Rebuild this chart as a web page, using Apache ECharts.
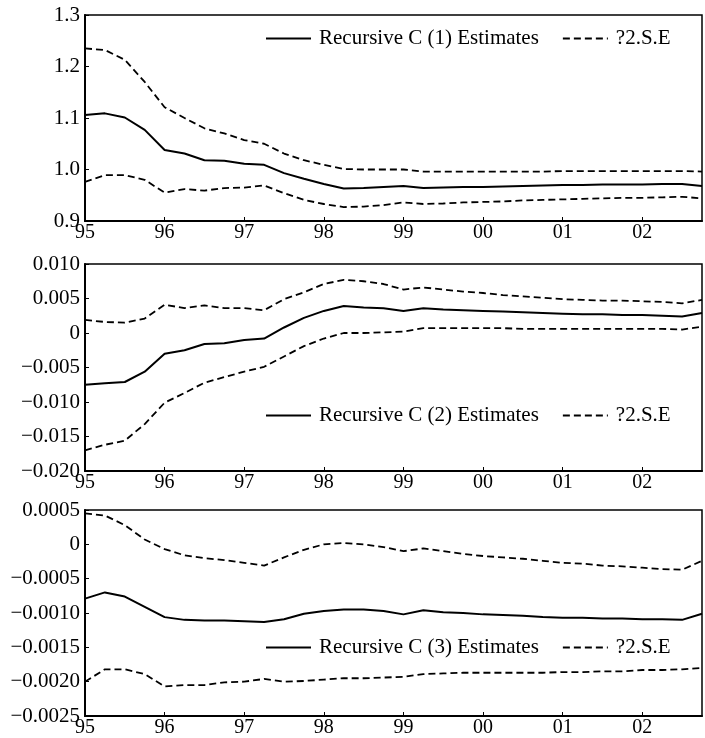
<!DOCTYPE html>
<html style="height: 100%">
<head>
    <meta charset="utf-8">
</head>
<body style="height: 100%; margin: 0; background: #fff">
<div id="container" style="width: 705px; height: 738px"></div>
<script type="text/javascript" src="https://cdn.jsdelivr.net/npm/echarts@6/dist/echarts.min.js"></script>
<script type="text/javascript">
    // quarters 1995Q1 .. 2002Q4
    var quarters = ['95Q1','95Q2','95Q3','95Q4','96Q1','96Q2','96Q3','96Q4',
        '97Q1','97Q2','97Q3','97Q4','98Q1','98Q2','98Q3','98Q4',
        '99Q1','99Q2','99Q3','99Q4','00Q1','00Q2','00Q3','00Q4',
        '01Q1','01Q2','01Q3','01Q4','02Q1','02Q2','02Q3','02Q4'];
    var yearLabels = ['95', '96', '97', '98', '99', '00', '01', '02'];

    // C(1)
    var c1Est = [1.106, 1.109, 1.101, 1.077, 1.038, 1.031, 1.018, 1.017, 1.011, 1.009, 0.993, 0.982, 0.972, 0.963, 0.964, 0.966,
        0.968, 0.964, 0.965, 0.966, 0.966, 0.967, 0.968, 0.969, 0.970, 0.970, 0.971, 0.971, 0.971, 0.972, 0.972, 0.968];
    var c1Up = [1.235, 1.232, 1.213, 1.170, 1.121, 1.100, 1.080, 1.070, 1.057, 1.050, 1.031, 1.018, 1.009, 1.001, 1.000, 1.000,
        1.000, 0.996, 0.996, 0.996, 0.996, 0.996, 0.996, 0.996, 0.997, 0.997, 0.997, 0.997, 0.997, 0.997, 0.997, 0.996];
    var c1Low = [0.976, 0.989, 0.989, 0.980, 0.955, 0.962, 0.959, 0.964, 0.965, 0.969, 0.954, 0.941, 0.933, 0.927, 0.928, 0.931,
        0.936, 0.933, 0.934, 0.936, 0.937, 0.938, 0.940, 0.941, 0.942, 0.943, 0.944, 0.945, 0.945, 0.946, 0.947, 0.944];
    var c1Ticks = ['0.9', '1.0', '1.1', '1.2', '1.3'];

    // C(2)
    var c2Est = [-0.0075, -0.0073, -0.0071, -0.0056, -0.0030, -0.0025, -0.0016, -0.0015, -0.0010, -0.0008, 0.0008, 0.0022, 0.0032, 0.0039, 0.0037, 0.0036,
        0.0032, 0.0036, 0.0034, 0.0033, 0.0032, 0.0031, 0.0030, 0.0029, 0.0028, 0.0027, 0.0027, 0.0026, 0.0026, 0.0025, 0.0024, 0.0029];
    var c2Up = [0.0019, 0.0016, 0.0015, 0.0021, 0.0041, 0.0036, 0.0040, 0.0036, 0.0036, 0.0033, 0.0049, 0.0059, 0.0071, 0.0077, 0.0075, 0.0071,
        0.0063, 0.0066, 0.0063, 0.0060, 0.0058, 0.0055, 0.0053, 0.0051, 0.0049, 0.0048, 0.0047, 0.0047, 0.0046, 0.0045, 0.0043, 0.0048];
    var c2Low = [-0.0170, -0.0162, -0.0156, -0.0132, -0.0101, -0.0087, -0.0072, -0.0064, -0.0056, -0.0049, -0.0034, -0.0019, -0.0008, 0.0000, 0.0000, 0.0001,
        0.0002, 0.0007, 0.0007, 0.0007, 0.0007, 0.0007, 0.0006, 0.0006, 0.0006, 0.0006, 0.0006, 0.0006, 0.0006, 0.0006, 0.0005, 0.0009];
    var c2Ticks = ['\u22120.020', '\u22120.015', '\u22120.010', '\u22120.005', '0', '0.005', '0.010'];

    // C(3)
    var c3Est = [-0.00079, -0.00070, -0.00076, -0.00091, -0.00106, -0.00110, -0.00111, -0.00111, -0.00112, -0.00113, -0.00109, -0.00101, -0.00097, -0.00095, -0.00095, -0.00097,
        -0.00102, -0.00096, -0.00099, -0.00100, -0.00102, -0.00103, -0.00104, -0.00106, -0.00107, -0.00107, -0.00108, -0.00108, -0.00109, -0.00109, -0.00110, -0.00101];
    var c3Up = [0.00045, 0.00042, 0.00028, 0.00007, -0.00007, -0.00016, -0.00020, -0.00023, -0.00027, -0.00031, -0.00019, -0.00008, 0.00000, 0.00002, 0.00000, -0.00004,
        -0.00010, -0.00006, -0.00010, -0.00014, -0.00017, -0.00019, -0.00021, -0.00024, -0.00027, -0.00028, -0.00031, -0.00032, -0.00034, -0.00036, -0.00037, -0.00024];
    var c3Low = [-0.00200, -0.00182, -0.00182, -0.00189, -0.00207, -0.00205, -0.00205, -0.00201, -0.00200, -0.00196, -0.00200, -0.00199, -0.00197, -0.00195, -0.00195, -0.00194,
        -0.00193, -0.00189, -0.00188, -0.00187, -0.00187, -0.00187, -0.00187, -0.00187, -0.00186, -0.00186, -0.00185, -0.00185, -0.00183, -0.00183, -0.00182, -0.00180];
    var c3Ticks = ['\u22120.0025', '\u22120.0020', '\u22120.0015', '\u22120.0010', '\u22120.0005', '0', '0.0005'];

    var seName = '?2.S.E';
    var font = 'Liberation Serif';

    var dom = document.getElementById('container');
    var myChart = echarts.init(dom);

    var grids = [
        {left: 85, right: 3, top: 15, height: 206},
        {left: 85, right: 3, top: 264, height: 207},
        {left: 85, right: 3, top: 510, height: 206}
    ];
    grids.forEach(function (g) {
        g.show = true;
        g.borderColor = '#000';
        g.borderWidth = 1.5;
    });

    function xAxis(i) {
        return {
            type: 'category',
            gridIndex: i,
            data: quarters,
            boundaryGap: false,
            axisLine: {onZero: false, lineStyle: {color: '#000', width: 2}},
            axisTick: {inside: true, length: 4, interval: 3, lineStyle: {color: '#000'}},
            axisLabel: {
                interval: 3,
                margin: 2,
                color: '#000',
                fontFamily: font,
                fontSize: 20,
                formatter: function (v, idx) { return yearLabels[idx / 4]; }
            },
            splitLine: {show: false}
        };
    }

    function yAxis(i, min, max, step, labels) {
        return {
            type: 'value',
            gridIndex: i,
            min: min,
            max: max,
            interval: step,
            axisLine: {show: true, onZero: false, lineStyle: {color: '#000', width: 2}},
            axisTick: {show: true, inside: true, length: 4, lineStyle: {color: '#000'}},
            axisLabel: {
                margin: 5,
                color: '#000',
                fontFamily: font,
                fontSize: 21,
                formatter: function (v, idx) { return labels[idx]; }
            },
            splitLine: {show: false}
        };
    }

    function line(name, data, i, dashed) {
        return {
            name: name,
            type: 'line',
            xAxisIndex: i,
            yAxisIndex: i,
            data: data,
            symbol: 'none',
            silent: true,
            lineStyle: {color: '#000', width: dashed ? 1.8 : 2, type: dashed ? [7, 4] : 'solid'},
            itemStyle: {color: '#000'}
        };
    }

    function legend(name, top) {
        return {
            left: 260,
            top: top,
            itemWidth: 45,
            itemHeight: 14,
            itemGap: 23,
            data: [name, seName],
            itemStyle: {opacity: 0},
            textStyle: {color: '#000', fontFamily: font, fontSize: 21, padding: [0, 0, 0, 3]},
            selectedMode: false
        };
    }

    var option = {
        animation: false,
        backgroundColor: '#fff',
        grid: grids,
        legend: [
            legend('Recursive C (1) Estimates', 23),
            legend('Recursive C (2) Estimates', 400),
            legend('Recursive C (3) Estimates', 632)
        ],
        xAxis: [xAxis(0), xAxis(1), xAxis(2)],
        yAxis: [
            yAxis(0, 0.9, 1.3, 0.1, c1Ticks),
            yAxis(1, -0.02, 0.01, 0.005, c2Ticks),
            yAxis(2, -0.0025, 0.0005, 0.0005, c3Ticks)
        ],
        series: [
            line('Recursive C (1) Estimates', c1Est, 0, false),
            line(seName, c1Up, 0, true),
            line(seName, c1Low, 0, true),
            line('Recursive C (2) Estimates', c2Est, 1, false),
            line(seName, c2Up, 1, true),
            line(seName, c2Low, 1, true),
            line('Recursive C (3) Estimates', c3Est, 2, false),
            line(seName, c3Up, 2, true),
            line(seName, c3Low, 2, true)
        ]
    };

    if (option && typeof option === 'object') {
        myChart.setOption(option);
    }
</script>
</body>
</html>
